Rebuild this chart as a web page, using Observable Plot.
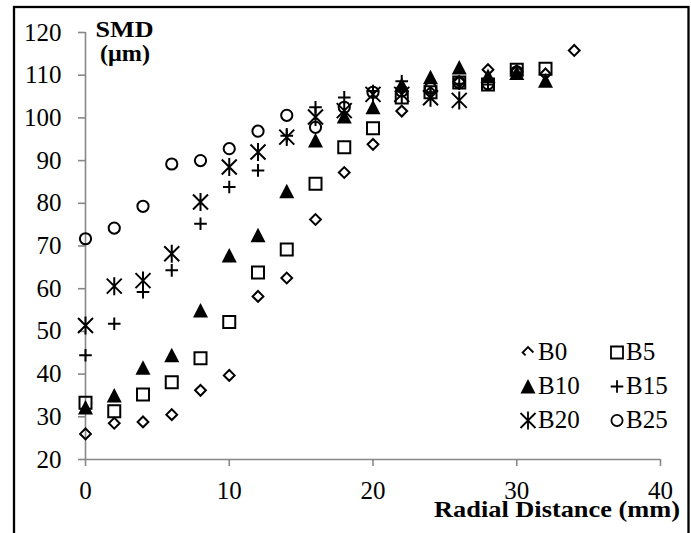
<!DOCTYPE html>
<html>
<head>
<meta charset="utf-8">
<script src="https://cdn.jsdelivr.net/npm/d3@7"></script>
<script src="https://cdn.jsdelivr.net/npm/@observablehq/plot@0.6"></script>
<style>
  html, body { margin: 0; padding: 0; background: #fff; overflow: hidden; }
  #chart { position: relative; width: 691px; height: 533px; }
  #chart svg text {
    font-family: "Liberation Serif", "Times New Roman", Times, serif !important;
    font-size: 25px !important;
  }
  #chart svg text.title { font-size: 24px !important; font-weight: bold; }
</style>
</head>
<body>
<div id="chart"></div>
<script>
// Radial distance from the spray axis (mm); each series uses the first n entries
const distance = [0, 2, 4, 6, 8, 10, 12, 14, 16, 18, 20, 22, 24, 26, 28, 30, 32, 34];

// Sauter mean diameter (µm) per blend
const B0  = [26.0, 28.5, 28.8, 30.5, 36.2, 39.7, 58.2, 62.5, 76.2, 87.2, 93.8, 101.6, 106.0, 108.5, 111.3, 111.0, 110.3, 115.8];
const B5  = [33.3, 31.3, 35.2, 38.1, 43.7, 52.2, 63.8, 69.2, 84.6, 93.1, 97.6, 104.8, 106.0, 108.3, 107.8, 111.3, 111.5];
const B10 = [32.2, 35.0, 41.5, 44.4, 54.9, 67.8, 72.5, 82.8, 94.7, 100.3, 102.5, 107.7, 109.5, 111.8, 109.8, 110.5, 108.7];
const B15 = [44.4, 51.8, 59.2, 64.3, 75.2, 83.8, 87.7, 95.8, 102.5, 104.8, 106.3, 108.6, 106.0, 108.0, 107.8];
const B20 = [51.4, 60.6, 61.9, 68.2, 80.3, 88.5, 92.0, 95.5, 100.2, 101.7, 105.5, 105.5, 104.7, 104.1];
const B25 = [71.7, 74.2, 79.3, 89.2, 90.0, 92.8, 96.9, 100.6, 97.8, 102.5, 106.0, 106.3, 107.0, 108.3, 108.0, 110.8];

const seriesNames = ["B0", "B5", "B10", "B15", "B20", "B25"];
const seriesValues = [B0, B5, B10, B15, B20, B25];

const xTicks = [0, 10, 20, 30, 40];
const yTicks = [20, 30, 40, 50, 60, 70, 80, 90, 100, 110, 120];

// Marker shapes (drawn at fixed pixel size)
const diamond = { draw(c) { const r = 5.4; c.moveTo(0, -r); c.lineTo(r, 0); c.lineTo(0, r); c.lineTo(-r, 0); c.closePath(); } };
const square = { draw(c) { const h = 6; c.moveTo(-h, -h); c.lineTo(h, -h); c.lineTo(h, h); c.lineTo(-h, h); c.closePath(); } };
const triangle = { draw(c) { c.moveTo(0, -7.5); c.lineTo(7.5, 7); c.lineTo(-7.5, 7); c.closePath(); } };
const plus = { draw(c) { const h = 6.3; c.moveTo(-h, 0); c.lineTo(h, 0); c.moveTo(0, -h); c.lineTo(0, h); } };
const star = { draw(c) { c.moveTo(-7.5, -7.5); c.lineTo(7.5, 7.5); c.moveTo(7.5, -7.5); c.lineTo(-7.5, 7.5); c.moveTo(0, -9); c.lineTo(0, 9); } };
const circle = { draw(c) { const r = 5.6; c.moveTo(r, 0); c.arc(0, 0, r, 0, 2 * Math.PI); } };
const legendDiamond = { draw(c) { const r = 5.4; c.moveTo(-r * 0.45, r * 0.55); c.lineTo(-r, 0); c.lineTo(0, -r); c.lineTo(r, 0); } };

const seriesSymbols = [diamond, square, triangle, plus, star, circle];
const seriesFilled = [false, false, true, false, false, false];

const rows = seriesNames.flatMap((name, i) =>
  seriesValues[i].map((v, j) => ({ series: name, distance: distance[j], smd: v }))
);

const serif = "Liberation Serif, Times New Roman, Times, serif";

const dotMarks = seriesNames.map((name, i) =>
  Plot.dot(rows.filter(d => d.series === name), {
    x: "distance",
    y: "smd",
    symbol: seriesSymbols[i],
    r: 6,
    fill: seriesFilled[i] ? "black" : "none",
    stroke: seriesFilled[i] ? "none" : "black",
    strokeWidth: 2
  })
);

const chart = Plot.plot({
  width: 691,
  height: 533,
  marginLeft: 85,
  marginRight: 31,
  marginTop: 32,
  marginBottom: 74,
  style: { fontFamily: serif, fontSize: "25px", color: "black", background: "white", overflow: "visible" },
  x: { domain: [0, 40] },
  y: { domain: [20, 120] },
  marks: [
    Plot.ruleY([20], { stroke: "#888", strokeWidth: 1.6 }),
    Plot.ruleX([0], { stroke: "#888", strokeWidth: 1.6 }),
    Plot.axisX({ ticks: xTicks, tickSize: 7, tickPadding: 15, label: null, stroke: "#888", strokeWidth: 1.6, fill: "black" }),
    Plot.axisY({ ticks: yTicks, tickSize: 7, tickPadding: 17, label: null, stroke: "#888", strokeWidth: 1.6, fill: "black" }),
    ...dotMarks
  ]
});

document.getElementById("chart").appendChild(chart);

// Frame, titles and legend
const svg = d3.select(chart).attr("font-family", serif).attr("font-size", 25);

svg.append("rect")
  .attr("x", 14).attr("y", 7)
  .attr("width", 674.5).attr("height", 560)
  .attr("fill", "none").attr("stroke", "black").attr("stroke-width", 2.3);

const titles = svg.append("g").attr("font-weight", "bold").attr("fill", "black");
const addTitle = (x, y, anchor, width, label) =>
  titles.append("text")
    .attr("class", "title")
    .attr("x", x).attr("y", y)
    .attr("text-anchor", anchor)
    .attr("textLength", width)
    .attr("lengthAdjust", "spacingAndGlyphs")
    .text(label);
addTitle(124.5, 37, "middle", 58, "SMD");
addTitle(125, 61, "middle", 50, "(μm)");
addTitle(680, 517, "end", 246, "Radial Distance (mm)");

const legend = svg.append("g").attr("fill", "black").attr("text-anchor", "start");
const legendSymbols = [legendDiamond, square, triangle, plus, star, circle];
seriesNames.forEach((name, i) => {
  const col = i % 2, row = Math.floor(i / 2);
  const base = 360 + row * 34;
  const sx = col === 0 ? 528 : 617;
  const tx = col === 0 ? 538 : 626;
  legend.append("path")
    .attr("transform", `translate(${sx},${base - 7.5})`)
    .attr("d", d3.symbol(legendSymbols[i])())
    .attr("fill", seriesFilled[i] ? "black" : "none")
    .attr("stroke", seriesFilled[i] ? "none" : "black")
    .attr("stroke-width", 1.8);
  legend.append("text").attr("x", tx).attr("y", base).attr("text-anchor", "start").text(name);
});
</script>
</body>
</html>
